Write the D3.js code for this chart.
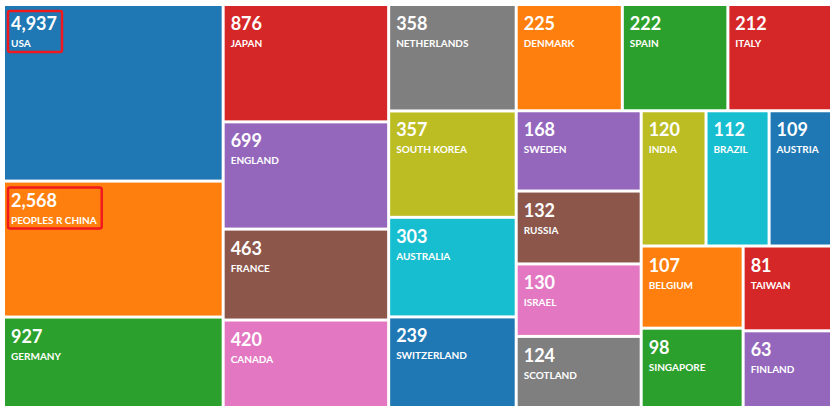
<!DOCTYPE html>
<html><head><meta charset="utf-8">
<script src="https://cdn.jsdelivr.net/npm/d3@7"></script>
<style>body{margin:0;background:#fff}</style>
</head><body><svg id="chart" width="832" height="412"></svg>
<script>
var countries = ['USA','PEOPLES R CHINA','GERMANY','JAPAN','ENGLAND','FRANCE','CANADA','NETHERLANDS','SOUTH KOREA','AUSTRALIA','SWITZERLAND','DENMARK','SPAIN','ITALY','SWEDEN','RUSSIA','ISRAEL','SCOTLAND','INDIA','BRAZIL','AUSTRIA','BELGIUM','SINGAPORE','TAIWAN','FINLAND'];
var counts = [4937,2568,927,876,699,463,420,358,357,303,239,225,222,212,168,132,130,124,120,112,109,107,98,81,63];
var highlighted = ['USA','PEOPLES R CHINA'];

// block layout of the picture: 'x' = side by side, 'y' = stacked
var layout = {dir: 'x', children: [
  {dir: 'y', items: [0, 1, 2]},
  {dir: 'y', items: [3, 4, 5, 6]},
  {dir: 'y', items: [7, 8, 9, 10]},
  {dir: 'y', children: [
    {dir: 'x', items: [11, 12, 13]},
    {dir: 'x', children: [
      {dir: 'y', items: [14, 15, 16, 17]},
      {dir: 'y', children: [
        {dir: 'x', items: [18, 19, 20]},
        {dir: 'x', children: [
          {dir: 'y', items: [21, 22]},
          {dir: 'y', items: [23, 24]}
        ]}
      ]}
    ]}
  ]}
]};

function build(node) {
  if (node.items) {
    return {dir: node.dir, children: node.items.map(function (i) {
      return {name: countries[i], value: counts[i]};
    })};
  }
  return {dir: node.dir, children: node.children.map(build)};
}

var svg = d3.select('#chart');
var color = d3.scaleOrdinal(d3.schemeCategory10).domain(countries);

var root = d3.hierarchy(build(layout))
  .sum(function (d) { return d.value ? Math.pow(d.value, 0.4) : 0; });

d3.treemap()
  .tile(function (node, x0, y0, x1, y1) {
    (node.data.dir === 'x' ? d3.treemapDice : d3.treemapSlice)(node, x0, y0, x1, y1);
  })
  .size([825, 400])
  .paddingInner(3)(root);

var g = svg.append('g').attr('transform', 'translate(5,6)');

var cell = g.selectAll('g')
  .data(root.leaves())
  .enter()
  .append('g')
  .attr('transform', function (d) { return 'translate(' + d.x0 + ',' + d.y0 + ')'; });

cell.append('rect')
  .attr('width', function (d) { return d.x1 - d.x0; })
  .attr('height', function (d) { return d.y1 - d.y0; })
  .attr('fill', function (d) { return color(d.data.name); });

cell.append('text')
  .text(function (d) { return d3.format(',')(d.data.value); })
  .attr('x', 6).attr('y', 24)
  .attr('font-family', 'Lato, sans-serif')
  .attr('font-weight', 'bold')
  .attr('font-size', '18px')
  .attr('fill', 'white');

cell.append('text')
  .text(function (d) { return d.data.name; })
  .attr('x', 6).attr('y', 41)
  .attr('font-family', 'Lato, sans-serif')
  .attr('font-weight', 'bold')
  .attr('font-size', '10px')
  .attr('fill', 'white');

cell.filter(function (d) { return highlighted.indexOf(d.data.name) >= 0; })
  .each(function () {
    var node = d3.select(this);
    var w = 0;
    node.selectAll('text').each(function () { w = Math.max(w, this.getComputedTextLength()); });
    node.append('rect')
      .attr('x', 3).attr('y', 5)
      .attr('width', w + 8).attr('height', 41)
      .attr('rx', 2)
      .attr('fill', 'none')
      .attr('stroke', '#f0191e')
      .attr('stroke-width', 2.5);
  });
</script></body></html>
